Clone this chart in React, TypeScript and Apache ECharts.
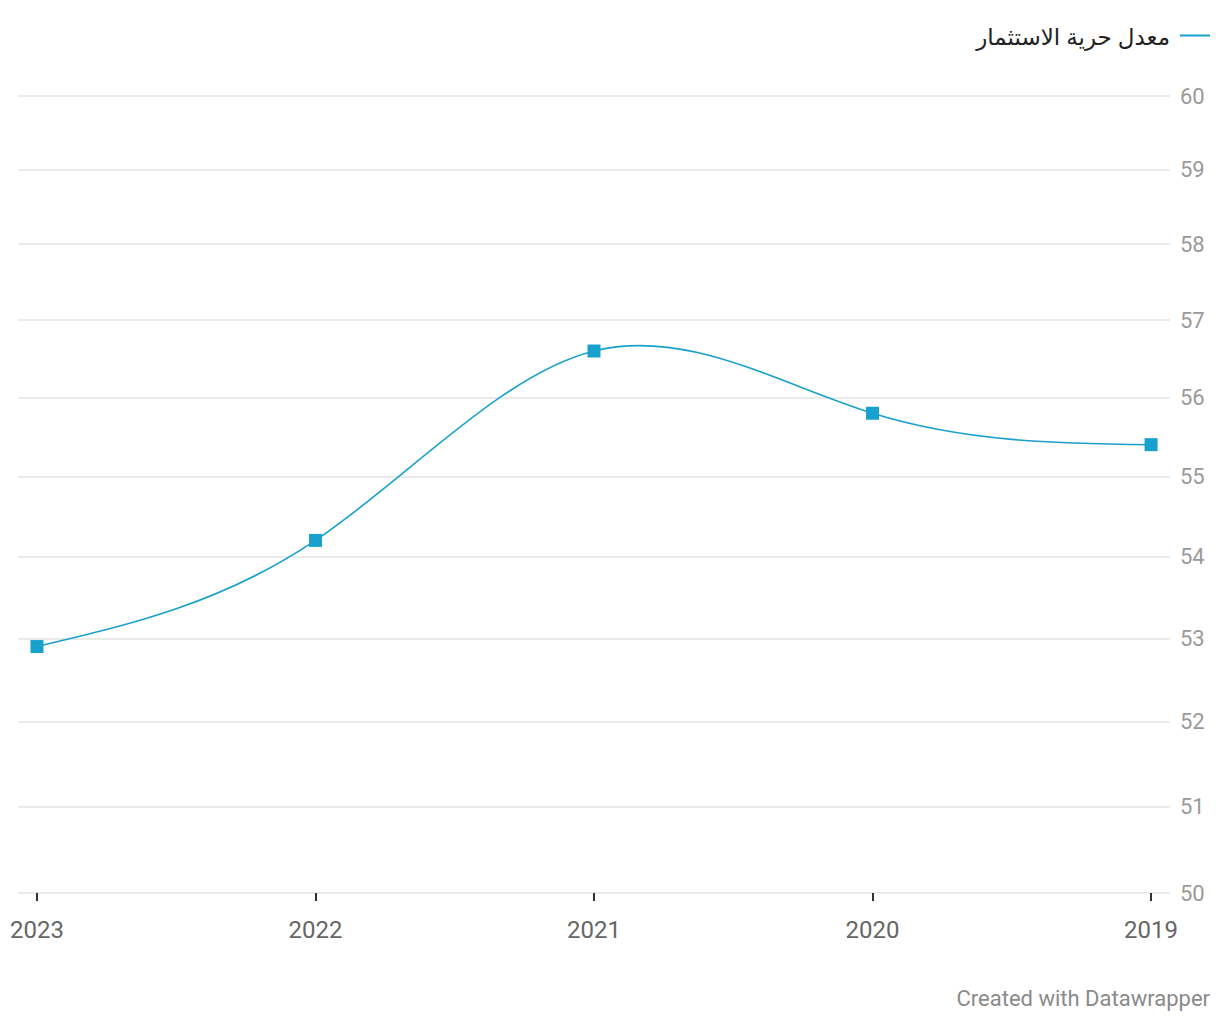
import React, { useEffect, useRef } from "react";
import * as echarts from "echarts";

const years = [2023, 2022, 2021, 2020, 2019];
const values = [52.9, 54.2, 56.6, 55.8, 55.4];
const yTicks = [50, 51, 52, 53, 54, 55, 56, 57, 58, 59, 60];
const seriesName = "معدل حرية الاستثمار";
const footer = "Created with Datawrapper";

const FONT = "Roboto, 'Noto Sans', 'DejaVu Sans', sans-serif";
const AR_FONT = "'Noto Sans', 'DejaVu Sans', sans-serif";
const BLUE = "#18a1cd";

// natural cubic spline control points (per coordinate)
function controlPoints(x: number[]) {
  const n = x.length - 1;
  const a = new Array(n), b = new Array(n), r = new Array(n);
  a[0] = 0; b[0] = 2; r[0] = x[0] + 2 * x[1];
  for (let i = 1; i < n - 1; ++i) { a[i] = 1; b[i] = 4; r[i] = 4 * x[i] + 2 * x[i + 1]; }
  a[n - 1] = 2; b[n - 1] = 7; r[n - 1] = 8 * x[n - 1] + x[n];
  for (let i = 1; i < n; ++i) { const m = a[i] / b[i - 1]; b[i] -= m; r[i] -= m * r[i - 1]; }
  a[n - 1] = r[n - 1] / b[n - 1];
  for (let i = n - 2; i >= 0; --i) a[i] = (r[i] - a[i + 1]) / b[i];
  b[n - 1] = (x[n] + a[n - 1]) / 2;
  for (let i = 0; i < n - 1; ++i) b[i] = 2 * x[i + 1] - a[i + 1];
  return [a, b];
}

export default function App() {
  const ref = useRef<HTMLDivElement>(null);
  useEffect(() => {
    if (!ref.current) return;
    const chart = echarts.init(ref.current, null, { renderer: "svg" });
    const points = years.map((y, i) => [y, values[i]]);
    chart.setOption({
      animation: false,
      textStyle: { fontFamily: FONT },
      grid: { left: 18, right: 50, top: 96, bottom: 127 },
      legend: {
        show: true,
        right: 10,
        top: 24,
        padding: 0,
        align: "right",
        itemWidth: 30,
        itemHeight: 2,
        data: [{ name: seriesName, icon: "rect", itemStyle: { color: BLUE } }],
        textStyle: { fontSize: 23, color: "#222", fontFamily: AR_FONT, padding: [0, 5, 0, 0] },
      },
      xAxis: {
        type: "value",
        inverse: true,
        min: 2018.932,
        max: 2023.068,
        axisLine: { show: false },
        splitLine: { show: false },
        axisTick: {
          show: true,
          customValues: years,
          length: 8,
          lineStyle: { color: "#333", width: 2 },
        },
        axisLabel: {
          customValues: years,
          color: "#666",
          fontSize: 24,
          fontFamily: FONT,
          margin: 25,
          formatter: (v: number) => String(v),
        },
      },
      yAxis: {
        type: "log",
        min: 50,
        max: 60,
        position: "right",
        axisLine: { show: false },
        axisTick: { show: false, customValues: yTicks },
        splitLine: { show: true, lineStyle: { color: "#e3e3e3", width: 1.5 } },
        axisLabel: {
          customValues: yTicks,
          color: "#9a9a9a",
          fontSize: 22,
          fontFamily: FONT,
          margin: 10,
          formatter: (v: number) => String(Math.round(v)),
        },
      },
      graphic: [
        {
          type: "text",
          right: 10,
          bottom: 11,
          style: { text: footer, fontSize: 22, fill: "#8a8a8a", fontFamily: FONT },
        },
      ],
      series: [
        {
          name: seriesName,
          type: "custom",
          z: 2,
          data: points,
          encode: { x: 0, y: 1 },
          itemStyle: { color: BLUE },
          renderItem: (params: any, api: any) => {
            const i = params.dataIndex;
            const n = points.length;
            if (i >= n - 1) return null;
            const pts = points.map((p) => api.coord(p));
            const [ax, bx] = controlPoints(pts.map((p: number[]) => p[0]));
            const [ay, by] = controlPoints(pts.map((p: number[]) => p[1]));
            return {
              type: "bezierCurve",
              shape: {
                x1: pts[i][0],
                y1: pts[i][1],
                cpx1: ax[i],
                cpy1: ay[i],
                cpx2: bx[i],
                cpy2: by[i],
                x2: pts[i + 1][0],
                y2: pts[i + 1][1],
              },
              style: { stroke: BLUE, lineWidth: 1.6, fill: "none" },
              silent: true,
            };
          },
        },
        {
          name: seriesName,
          type: "line",
          z: 3,
          data: points,
          symbol: "rect",
          symbolSize: 13,
          itemStyle: { color: BLUE },
          lineStyle: { color: BLUE, width: 0, opacity: 0 },
        },
      ],
    });
    return () => chart.dispose();
  }, []);
  return (
    <div
      ref={ref}
      style={{ position: "fixed", left: 0, top: 0, width: 1220, height: 1020, background: "#fff" }}
    />
  );
}
